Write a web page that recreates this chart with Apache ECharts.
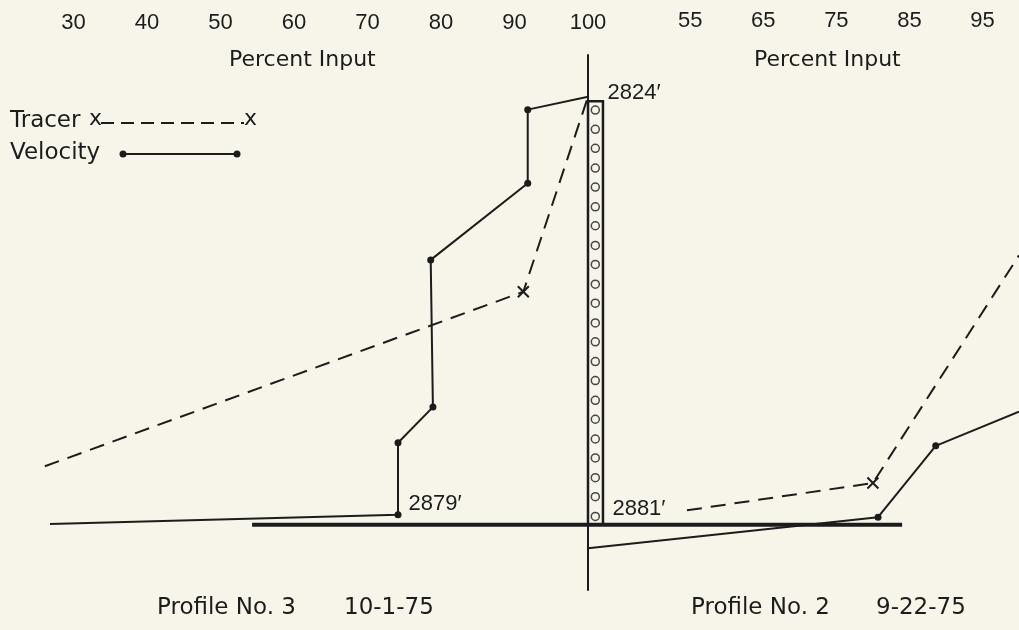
<!DOCTYPE html>
<html>
<head>
<meta charset="utf-8">
<script src="https://cdn.jsdelivr.net/npm/echarts@6/dist/echarts.min.js"></script>
<style>
html,body{margin:0;padding:0;background:#f7f4ea;}
#chart{width:1019px;height:630px;}
</style>
</head>
<body>
<div id="chart"></div>
<script>
// ---- data (depth in feet, x = percent input) ----
const leftTicks = [30, 40, 50, 60, 70, 80, 90, 100];
const rightTicks = [55, 65, 75, 85, 95];

// Profile No. 3 (10-1-75), left panel
const p3VelocityPct   = [26.8, 74.15, 74.15, 78.9, 78.6, 91.8, 91.8, 100];
const p3VelocityDepth = [2880.3, 2879.1, 2869.6, 2864.9, 2845.5, 2835.4, 2825.7, 2824];
const p3TracerPct     = [26.1, 91.2, 100];
const p3TracerDepth   = [2872.7, 2849.7, 2824];

// Profile No. 2 (9-22-75), right panel
const p2VelocityPct   = [41, 80.7, 88.6, 100];
const p2VelocityDepth = [2883.5, 2879.4, 2870.0, 2865.5];
const p2TracerPct     = [54.55, 80.0, 100];
const p2TracerDepth   = [2878.5, 2874.9, 2844.9];

// well casing and perforations
const casingPct = [41, 43.05];
const casingDepth = [2824.6, 2880.4];
const perfPct = 42.0;
const perfDepths = [2825.75, 2828.3, 2830.8, 2833.4, 2835.9, 2838.5, 2841.0, 2843.6, 2846.1, 2848.7, 2851.2,
                    2853.8, 2856.3, 2858.9, 2861.4, 2864.0, 2866.5, 2869.1, 2871.6, 2874.2, 2876.7, 2879.3];

// base line
const baseDepth = 2880.4;
const baseLeftPct = [54.3, 100];
const baseRightPct = [41, 84.0];

const depthLabels = {top3: "2824′", bottom3: "2879′", bottom2: "2881′"};
const axisTitle = 'Percent Input';
const profileTitles = ['Profile No. 3', '10-1-75', 'Profile No. 2', '9-22-75'];

// ---- styles ----
const BG = '#f7f4ea';
const INK = '#1c1c1c';
const NUMFONT = 'Liberation Sans';
const WORDFONT = 'DejaVu Sans';
const DASH = [15, 9];

// velocity: dots at interior points only
function velData(xs, ys, labelIdx, labelCfg) {
  return xs.map((x, i) => {
    const item = {value: [x, ys[i]]};
    const li = labelIdx ? labelIdx.indexOf(i) : -1;
    if (i === 0 || i === xs.length - 1) {
      if (li >= 0) { item.symbol = 'circle'; item.symbolSize = 1; item.itemStyle = {color: 'rgba(0,0,0,0)'}; }
      else item.symbol = 'none';
    }
    if (li >= 0) item.label = labelCfg[li];
    return item;
  });
}
const XPATH = 'path://M0,0L10,10M10,0L0,10';
function tracerData(xs, ys, xIdx, labelIdx, labelCfg) {
  return xs.map((x, i) => {
    const item = {value: [x, ys[i]], symbol: 'none'};
    if (i === xIdx) {
      item.symbol = XPATH;
      item.symbolSize = 11;
      item.itemStyle = {color: 'rgba(0,0,0,0)', borderColor: INK, borderWidth: 2};
    }
    if (labelIdx !== undefined && i === labelIdx) {
      item.symbol = 'circle'; item.symbolSize = 1; item.itemStyle = {color: 'rgba(0,0,0,0)'};
      item.label = labelCfg;
    }
    return item;
  });
}

const depthLabelStyle = {show: true, fontFamily: NUMFONT, fontSize: 22, color: INK};

const chart = echarts.init(document.getElementById('chart'), null, {renderer: 'canvas'});
const yCommon = {type: 'value', inverse: true, min: 2818.5, max: 2889,
                 axisLabel: {show: false}, axisTick: {show: false}, splitLine: {show: false}};
const titleStyle = {fontFamily: WORDFONT, fontSize: 23, fontWeight: 'normal', color: INK};

const option = {
  backgroundColor: BG,
  animation: false,
  grid: [
    {left: 0, top: 55, width: 588, height: 535, containLabel: false, outerBoundsMode: 'none'},
    {left: 588, top: 55, width: 431, height: 535, containLabel: false, outerBoundsMode: 'none'}
  ],
  xAxis: [
    {gridIndex: 0, type: 'value', position: 'top', min: 20, max: 100, interval: 10,
     axisLine: {show: false}, axisTick: {show: false}, splitLine: {show: false},
     axisLabel: {fontFamily: NUMFONT, fontSize: 22, color: INK, margin: 21,
                 formatter: v => (leftTicks.indexOf(v) >= 0 ? String(v) : '')}},
    {gridIndex: 1, type: 'value', position: 'top', min: 41, max: 100,
     axisLine: {show: false}, axisTick: {show: false}, splitLine: {show: false},
     axisLabel: {fontFamily: NUMFONT, fontSize: 22, color: INK, margin: 23, customValues: rightTicks}}
  ],
  yAxis: [
    Object.assign({gridIndex: 0, axisLine: {show: false}}, yCommon),
    Object.assign({gridIndex: 1, position: 'left', axisLine: {show: true, lineStyle: {color: INK, width: 2}}}, yCommon)
  ],
  series: [
    {name: 'Base', type: 'line', xAxisIndex: 0, yAxisIndex: 0, symbol: 'none', silent: true,
     lineStyle: {color: INK, width: 4}, data: baseLeftPct.map(x => [x, baseDepth])},
    {name: 'Base', type: 'line', xAxisIndex: 1, yAxisIndex: 1, symbol: 'none', silent: true,
     lineStyle: {color: INK, width: 4}, data: baseRightPct.map(x => [x, baseDepth])},
    {name: 'Casing', type: 'scatter', xAxisIndex: 1, yAxisIndex: 1, symbol: 'circle', symbolSize: 8,
     itemStyle: {color: BG, borderColor: INK, borderWidth: 1.5},
     data: perfDepths.map(d => [perfPct, d]),
     markArea: {silent: true, itemStyle: {color: 'rgba(0,0,0,0)', borderColor: INK, borderWidth: 2.5},
                data: [[{xAxis: casingPct[0], yAxis: casingDepth[0]}, {xAxis: casingPct[1], yAxis: casingDepth[1]}]]}},
    {name: 'Velocity', type: 'line', xAxisIndex: 0, yAxisIndex: 0, symbol: 'circle', symbolSize: 7,
     itemStyle: {color: INK}, lineStyle: {color: INK, width: 2},
     data: velData(p3VelocityPct, p3VelocityDepth, [1, 7], [
       Object.assign({position: 'right', distance: 7, offset: [0, -11], formatter: depthLabels.bottom3}, depthLabelStyle),
       Object.assign({position: 'right', distance: 19, offset: [0, -4], formatter: depthLabels.top3}, depthLabelStyle)
     ])},
    {name: 'Tracer', type: 'line', xAxisIndex: 0, yAxisIndex: 0,
     lineStyle: {color: INK, width: 2, type: DASH},
     data: tracerData(p3TracerPct, p3TracerDepth, 1)},
    {name: 'Velocity', type: 'line', xAxisIndex: 1, yAxisIndex: 1, symbol: 'circle', symbolSize: 7,
     itemStyle: {color: INK}, lineStyle: {color: INK, width: 2},
     data: velData(p2VelocityPct, p2VelocityDepth)},
    {name: 'Tracer', type: 'line', xAxisIndex: 1, yAxisIndex: 1,
     lineStyle: {color: INK, width: 2, type: DASH},
     data: tracerData(p2TracerPct, p2TracerDepth, 1, 0,
       Object.assign({position: 'left', distance: 21, offset: [0, -1], formatter: depthLabels.bottom2}, depthLabelStyle))}
  ],
  title: [
    {text: axisTitle, left: 229, top: 49, padding: 0, textStyle: Object.assign({}, titleStyle, {fontSize: 22})},
    {text: axisTitle, left: 754, top: 49, padding: 0, textStyle: Object.assign({}, titleStyle, {fontSize: 22})},
    {text: profileTitles[0], left: 157, top: 597, padding: 0, textStyle: titleStyle},
    {text: profileTitles[1], left: 344, top: 597, padding: 0, textStyle: titleStyle},
    {text: profileTitles[2], left: 691, top: 597, padding: 0, textStyle: titleStyle},
    {text: profileTitles[3], left: 876, top: 597, padding: 0, textStyle: titleStyle}
  ],
  graphic: [
    {type: 'text', left: 10, top: 110, style: {text: 'Tracer', fontFamily: WORDFONT, fontSize: 23, fill: INK}},
    {type: 'text', left: 89, top: 108, style: {text: 'x', fontFamily: WORDFONT, fontSize: 22, fill: INK}},
    {type: 'line', shape: {x1: 101, y1: 123, x2: 244, y2: 123}, style: {stroke: INK, lineWidth: 2, lineDash: [13, 7]}},
    {type: 'text', left: 244, top: 108, style: {text: 'x', fontFamily: WORDFONT, fontSize: 22, fill: INK}},
    {type: 'text', left: 10, top: 142, style: {text: 'Velocity', fontFamily: WORDFONT, fontSize: 23, fill: INK}},
    {type: 'line', shape: {x1: 123, y1: 154, x2: 237, y2: 154}, style: {stroke: INK, lineWidth: 2}},
    {type: 'circle', shape: {cx: 123, cy: 154, r: 3.5}, style: {fill: INK}},
    {type: 'circle', shape: {cx: 237, cy: 154, r: 3.5}, style: {fill: INK}}
  ]
};
chart.setOption(option);
</script>
</body>
</html>
